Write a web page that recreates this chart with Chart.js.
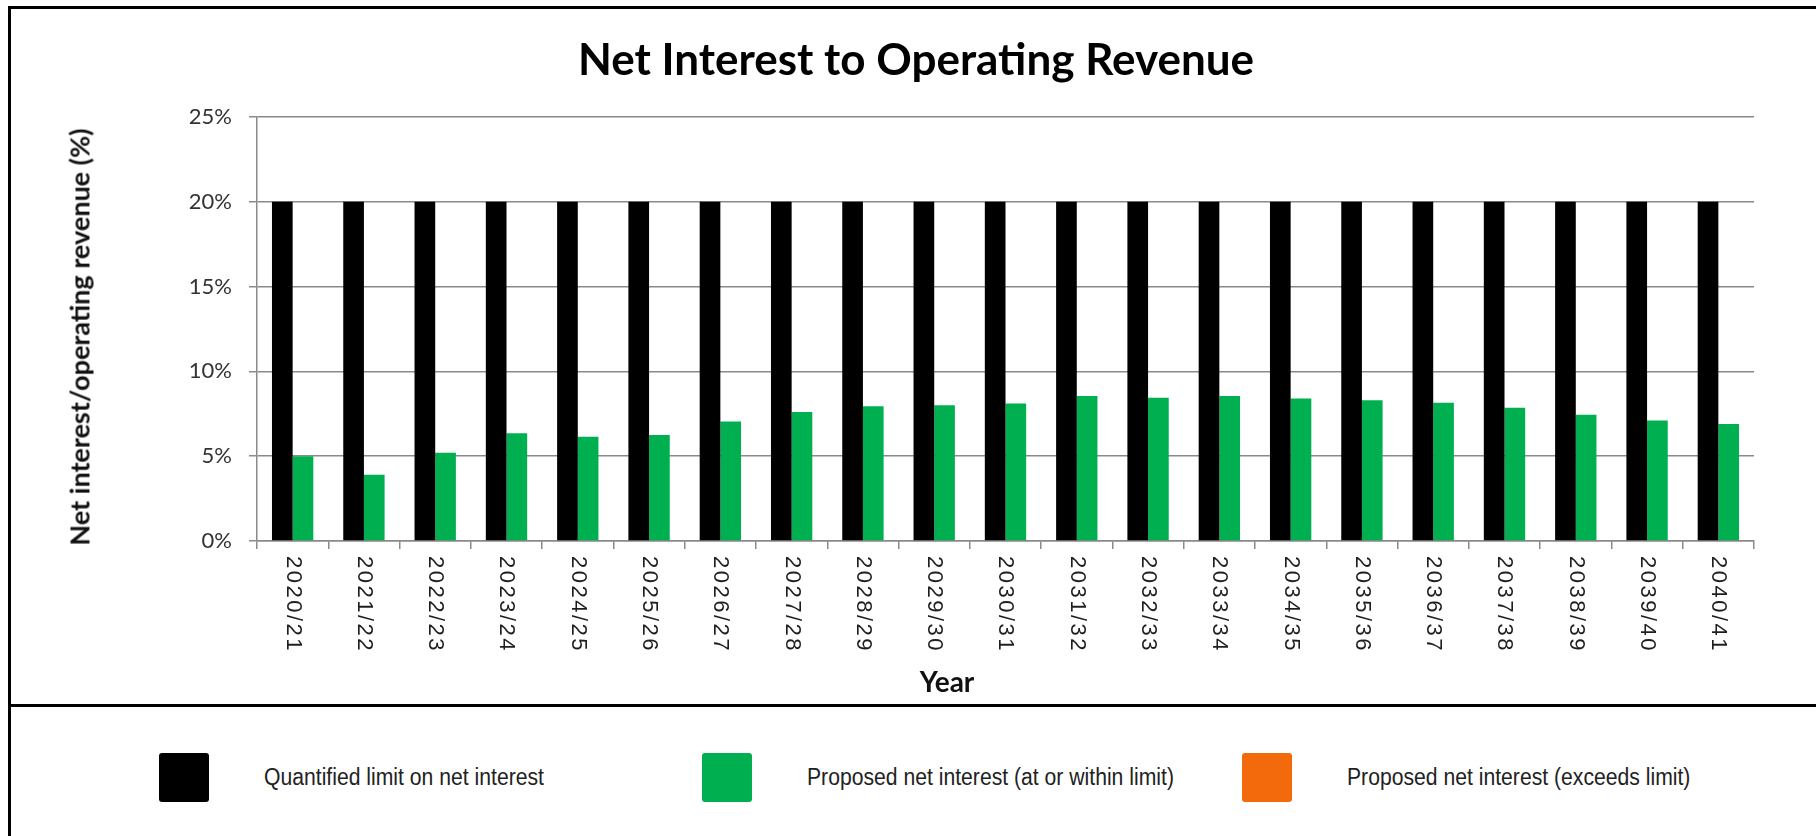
<!DOCTYPE html>
<html>
<head>
<meta charset="utf-8">
<title>Net Interest to Operating Revenue</title>
<script src="https://cdn.jsdelivr.net/npm/chart.js@4.4.1/dist/chart.umd.min.js"></script>
<style>
  body { margin: 0; background: #fff; }
  #frame { position: relative; width: 1816px; height: 836px; overflow: hidden; background: #fff; }
  #chart { position: absolute; left: 0; top: 0; }
  .rule { position: absolute; background: #000; }
  .label {
    position: absolute; white-space: nowrap; font-family: Lato, sans-serif; font-weight: bold;
    transform: translate(-50%, -50%);
  }
  #title { left: 916px; top: 58px; font-size: 44px; color: #000; }
  #yTitle { left: 79px; top: 337px; font-size: 27px; color: #111; transform: translate(-50%, -50%) rotate(-90deg); }
  #xTitle { left: 947px; top: 681px; font-size: 28px; color: #111; }
  .legend-item { position: absolute; top: 753px; height: 49px; }
  .legend-box { position: absolute; left: 0; top: 0; width: 50px; height: 49px; border-radius: 3px; }
  .legend-text {
    position: absolute; left: 105px; top: 0; line-height: 49px; white-space: nowrap;
    font-family: "Liberation Sans", Arial, sans-serif;
    font-size: 23px; color: #222;
    transform: scaleX(0.92); transform-origin: left center;
  }
</style>
</head>
<body>
<div id="frame">
  <canvas id="chart" width="1816" height="705"></canvas>
  <div class="label" id="title">Net Interest to Operating Revenue</div>
  <div class="label" id="yTitle">Net interest/operating revenue (%)</div>
  <div class="label" id="xTitle">Year</div>
  <div class="rule" style="left:8px; top:6px; width:1808px; height:3px;"></div>
  <div class="rule" style="left:8px; top:6px; width:3px; height:830px;"></div>
  <div class="rule" style="left:8px; top:704px; width:1808px; height:3px;"></div>
  <div id="legend"></div>
</div>
<script>
const years = ['2020/21', '2021/22', '2022/23', '2023/24', '2024/25', '2025/26', '2026/27',
  '2027/28', '2028/29', '2029/30', '2030/31', '2031/32', '2032/33', '2033/34', '2034/35',
  '2035/36', '2036/37', '2037/38', '2038/39', '2039/40', '2040/41'];

// % of operating revenue
const limitValues = [20, 20, 20, 20, 20, 20, 20, 20, 20, 20, 20, 20, 20, 20, 20, 20, 20, 20, 20, 20, 20];
const withinValues = [5.0, 3.9, 5.2, 6.35, 6.15, 6.25, 7.05, 7.6, 7.95, 8.0, 8.1, 8.55, 8.45, 8.55,
  8.4, 8.3, 8.15, 7.85, 7.45, 7.1, 6.9];
const exceedsValues = [0, 0, 0, 0, 0, 0, 0, 0, 0, 0, 0, 0, 0, 0, 0, 0, 0, 0, 0, 0, 0];

const yTicks = [0, 5, 10, 15, 20, 25];

const seriesNames = ['Quantified limit on net interest', 'Proposed net interest (at or within limit)',
  'Proposed net interest (exceeds limit)'];
const seriesColors = ['#000000', '#00b050', '#f26a0c'];

const GRID = '#8a8a8a';

// x labels run top-to-bottom under each group, so draw them ourselves
const yearLabels = {
  id: 'yearLabels',
  afterDraw(chart) {
    const ctx = chart.ctx;
    const xs = chart.scales.x;
    const top = chart.chartArea.bottom + 15;
    ctx.save();
    ctx.font = '22px "Liberation Sans", Arial, sans-serif';
    ctx.letterSpacing = '2.5px';
    ctx.fillStyle = '#1e1e1e';
    ctx.textAlign = 'left';
    ctx.textBaseline = 'middle';
    chart.data.labels.forEach((label, i) => {
      ctx.save();
      ctx.translate(xs.getPixelForValue(i), top);
      ctx.rotate(Math.PI / 2);
      ctx.fillText(label, 0, 0);
      ctx.restore();
    });
    ctx.restore();
  }
};

const chart = new Chart(document.getElementById('chart'), {
  type: 'bar',
  data: {
    labels: years,
    datasets: [
      { label: seriesNames[0], data: limitValues, backgroundColor: seriesColors[0], stack: 'limit' },
      { label: seriesNames[1], data: withinValues, backgroundColor: seriesColors[1], stack: 'proposed' },
      { label: seriesNames[2], data: exceedsValues, backgroundColor: seriesColors[2], stack: 'proposed' }
    ]
  },
  options: {
    responsive: false,
    animation: false,
    devicePixelRatio: 1,
    categoryPercentage: 0.58,
    barPercentage: 1.0,
    layout: { padding: { left: 0, right: 62, top: 117, bottom: 0 } },
    plugins: {
      legend: { display: false },
      tooltip: { enabled: false },
      title: { display: false }
    },
    scales: {
      x: {
        grid: { display: true, drawOnChartArea: false, drawTicks: true, tickLength: 8, color: GRID, lineWidth: 1.5, offset: true },
        border: { display: true, color: GRID, width: 1.5 },
        ticks: { display: false },
        afterFit(scale) { scale.height = 164; }
      },
      y: {
        min: 0,
        max: 25,
        afterBuildTicks(scale) { scale.ticks = yTicks.map(v => ({ value: v })); },
        grid: { color: GRID, lineWidth: 1.5, tickLength: 8 },
        border: { display: true, color: GRID, width: 1.5 },
        ticks: {
          padding: 17,
          color: '#333',
          font: { family: 'Lato', size: 22 },
          callback: v => v + '%'
        },
        afterFit(scale) { scale.width = 257; }
      }
    }
  },
  plugins: [yearLabels]
});

// legend under the rule, one fixed slot per series
const legendSlots = [159, 702, 1242];
const legendEl = document.getElementById('legend');
chart.data.datasets.forEach((ds, i) => {
  const item = document.createElement('div');
  item.className = 'legend-item';
  item.style.left = legendSlots[i] + 'px';
  const box = document.createElement('div');
  box.className = 'legend-box';
  box.style.background = ds.backgroundColor;
  const text = document.createElement('div');
  text.className = 'legend-text';
  text.textContent = ds.label;
  item.appendChild(box);
  item.appendChild(text);
  legendEl.appendChild(item);
});
</script>
</body>
</html>
